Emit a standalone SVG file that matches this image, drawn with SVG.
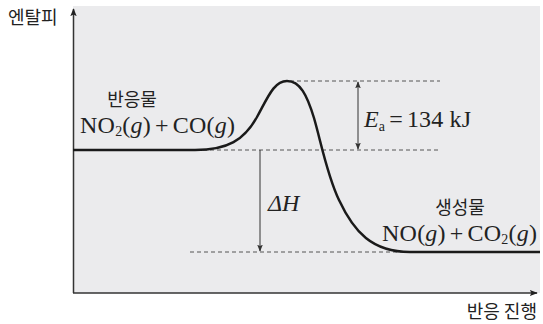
<svg xmlns="http://www.w3.org/2000/svg" width="543" height="324" viewBox="0 0 543 324">
<defs>
<style>
.kr{font-family:"Noto Sans CJK KR","Noto Sans",sans-serif;font-size:18px;fill:#222}
.m{font-family:"Liberation Serif","DejaVu Serif",serif;font-size:24px;fill:#222}
.it{font-style:italic}
.dash{stroke:#555;stroke-width:1;stroke-dasharray:4,3;fill:none}
.ax{stroke:#333;stroke-width:1.5;fill:none}
.curve{stroke:#1a1a1a;stroke-width:2.5;fill:none}
.arr{stroke:#333;stroke-width:1;fill:none}
</style>
<marker id="ah" viewBox="0 0 10 10" refX="9" refY="5" markerWidth="8" markerHeight="8" orient="auto-start-reverse" markerUnits="userSpaceOnUse">
<path d="M0,1 L10,5 L0,9 L2,5 Z" fill="#222"/>
</marker>
<marker id="sh" viewBox="0 0 10 10" refX="9" refY="5" markerWidth="7" markerHeight="7" orient="auto-start-reverse" markerUnits="userSpaceOnUse">
<path d="M0,1 L10,5 L0,9 L2,5 Z" fill="#333"/>
</marker>
</defs>
<rect x="73" y="6" width="467" height="287" fill="#ebebed"/>
<g id="axes">
<line class="ax" x1="73.5" y1="293" x2="73.5" y2="9" marker-end="url(#ah)"/>
<line class="ax" x1="73" y1="293" x2="537" y2="293" marker-end="url(#ah)"/>
</g>
<g id="connectors">
<line class="dash" x1="290" y1="81" x2="440" y2="81"/>
<line class="dash" x1="203" y1="150" x2="440" y2="150"/>
<line class="dash" x1="190" y1="252" x2="405" y2="252"/>
<line class="arr" x1="358" y1="82" x2="358" y2="149" marker-start="url(#sh)" marker-end="url(#sh)"/>
<line class="arr" x1="260" y1="150" x2="260" y2="251" marker-end="url(#sh)"/>
</g>
<g id="curve">
<path class="curve" d="M73,150 L195,150 C228,150 244,140 257,117 C268,97 274,81 287,81 C300,81 307,95 314,118 C321,142 327,175 339,200 C354,232 372,252 410,252 L540,252"/>
</g>
<g id="labels">
<text class="kr" x="8" y="24">엔탈피</text>
<text class="kr" x="132" y="106" text-anchor="middle">반응물</text>
<text class="m" x="80" y="133" textLength="155" lengthAdjust="spacing">NO<tspan font-size="14" dy="3">2</tspan><tspan dy="-3">(</tspan><tspan class="it">g</tspan>)<tspan dx="4">+</tspan><tspan dx="4">CO(</tspan><tspan class="it">g</tspan>)</text>
<text class="m" x="364" y="127" textLength="107" lengthAdjust="spacing"><tspan class="it">E</tspan><tspan font-size="14" dy="4">a</tspan><tspan dy="-4" dx="4">=</tspan><tspan dx="4">134 kJ</tspan></text>
<text class="m it" x="268" y="211">ΔH</text>
<text class="kr" x="460" y="214" text-anchor="middle">생성물</text>
<text class="m" x="382" y="241" textLength="155" lengthAdjust="spacing">NO(<tspan class="it">g</tspan>)<tspan dx="4">+</tspan><tspan dx="4">CO</tspan><tspan font-size="14" dy="3">2</tspan><tspan dy="-3">(</tspan><tspan class="it">g</tspan>)</text>
<text class="kr" x="537" y="318" text-anchor="end">반응 진행</text>
</g>
</svg>
